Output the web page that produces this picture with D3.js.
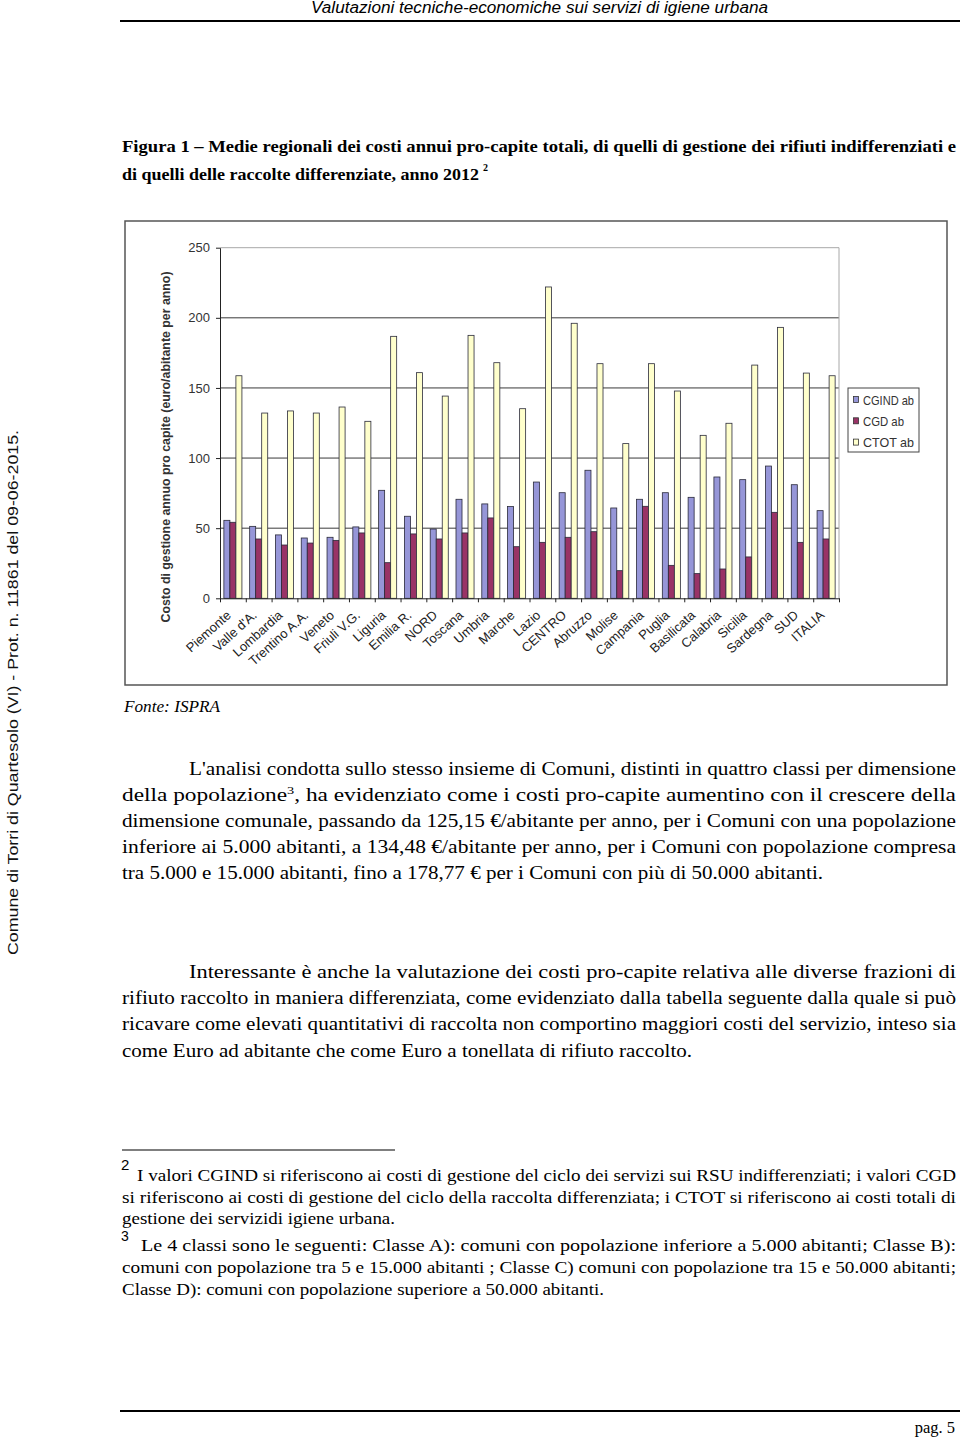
<!DOCTYPE html>
<html>
<head>
<meta charset="utf-8">
<script src="https://cdn.jsdelivr.net/npm/d3@7"></script>
<style>
  body { margin: 0; background: #fff; }
  svg { display: block; }
</style>
</head>
<body>
<svg id="page" width="960" height="1438"></svg>
<script>
// categories and series
var categories = ["Piemonte", "Valle d'A.", "Lombardia", "Trentino A.A.", "Veneto", "Friuli V.G.",
    "Liguria", "Emilia R.", "NORD", "Toscana", "Umbria", "Marche", "Lazio", "CENTRO",
    "Abruzzo", "Molise", "Campania", "Puglia", "Basilicata", "Calabria", "Sicilia",
    "Sardegna", "SUD", "ITALIA"];
var cgind = [55.6, 51.3, 45.2, 43.0, 43.5, 50.9, 77.0, 58.5, 49.4, 70.6, 67.3, 65.4, 82.9, 75.3,
    91.3, 64.4, 70.6, 75.3, 72.0, 86.5, 84.6, 94.3, 81.0, 62.5];
var cgd = [54.2, 42.3, 38.0, 39.4, 41.3, 46.6, 25.4, 45.9, 42.3, 46.6, 57.3, 36.8, 39.9, 43.5,
    47.5, 19.7, 65.6, 23.5, 17.6, 20.9, 29.5, 61.3, 39.9, 42.3];
var ctot = [158.7, 132.1, 133.6, 132.1, 136.4, 126.2, 186.8, 160.9, 144.2, 187.5, 168.0, 135.2,
    222.0, 196.1, 167.3, 110.3, 167.3, 147.8, 116.2, 124.8, 166.3, 193.2, 160.6, 158.7];
var seriesNames = ["CGIND ab", "CGD ab", "CTOT ab"];
var yTicks = [0, 50, 100, 150, 200, 250];

var seriesColors = ["#9696d8", "#993366", "#ffffcc"];
var values = [cgind, cgd, ctot];

var svg = d3.select("#page");
var serif = "'Liberation Serif', 'Times New Roman', serif";
var sans = "'Liberation Sans', Arial, sans-serif";

// helper for one line of page text, stretched to a width when given
function line(txt, x, y, opts) {
    opts = opts || {};
    var t = svg.append("text")
        .attr("x", x).attr("y", y)
        .style("font-family", opts.family || serif)
        .style("font-size", (opts.size || 18) + "px")
        .style("font-weight", opts.bold ? "bold" : "normal")
        .style("font-style", opts.italic ? "italic" : "normal")
        .attr("fill", opts.fill || "#000")
        .attr("text-anchor", opts.anchor || "start");
    if (opts.width) {
        t.attr("textLength", opts.width).attr("lengthAdjust", "spacingAndGlyphs");
    }
    if (Array.isArray(txt)) {
        var shift = 0;
        txt.forEach(function(p) {
            if (typeof p === "string") {
                t.append("tspan").attr("dy", -shift).text(p);
                shift = 0;
            } else {
                t.append("tspan").attr("dy", p.dy).style("font-size", p.size + "px").text(p.sup);
                shift = p.dy;
            }
        });
    } else {
        t.text(txt);
    }
    return t;
}

// page header
line("Valutazioni tecniche-economiche sui servizi di igiene urbana", 311, 13,
    {family: sans, italic: true, size: 16, width: 457});
svg.append("line").attr("x1", 120).attr("x2", 960).attr("y1", 21).attr("y2", 21)
    .attr("stroke", "#000").attr("stroke-width", 2);

// side stamp
svg.append("text")
    .attr("transform", "translate(18,955) rotate(-90)")
    .style("font-family", sans).style("font-size", "15px")
    .attr("fill", "#111")
    .attr("textLength", 525).attr("lengthAdjust", "spacingAndGlyphs")
    .text("Comune di Torri di Quartesolo (VI) - Prot. n.   11861 del 09-06-2015.");

// figure caption
line("Figura 1 \u2013 Medie regionali dei costi annui pro-capite totali, di quelli di gestione dei rifiuti indifferenziati e",
    122, 152, {bold: true, size: 17, width: 834});
line("di quelli delle raccolte differenziate, anno 2012", 122, 180, {bold: true, size: 17, width: 357});
line("2", 483, 171, {bold: true, size: 10});

// chart frame
svg.append("rect")
    .attr("x", 125).attr("y", 221).attr("width", 822).attr("height", 464)
    .attr("fill", "#fff").attr("stroke", "#555").attr("stroke-width", 1.5);

var plot = {left: 220, right: 839, top: 247.7, bottom: 598.3};

var x0 = d3.scaleBand()
    .domain(categories)
    .range([plot.left, plot.right])
    .paddingInner(0.3)
    .paddingOuter(0.15);
var x1 = d3.scaleBand()
    .domain(d3.range(seriesNames.length))
    .range([0, x0.bandwidth()]);
var y = d3.scaleLinear().domain([0, 250]).range([plot.bottom, plot.top]);

var chart = svg.append("g");

// grid
chart.selectAll("line.grid")
    .data(yTicks.filter(function(d) { return d > 0; }))
    .enter().append("line")
    .attr("x1", plot.left).attr("x2", plot.right)
    .attr("y1", function(d) { return y(d); })
    .attr("y2", function(d) { return y(d); })
    .attr("stroke", function(d) { return d === 250 ? "#a8a8a8" : "#3a3a3a"; })
    .attr("stroke-width", 1);
chart.append("line")
    .attr("x1", plot.right).attr("x2", plot.right)
    .attr("y1", plot.top).attr("y2", plot.bottom)
    .attr("stroke", "#a8a8a8");

// bars
var groups = chart.selectAll("g.grp")
    .data(categories)
    .enter().append("g")
    .attr("transform", function(d) { return "translate(" + x0(d) + ",0)"; });
groups.selectAll("rect")
    .data(function(d, i) { return values.map(function(v, s) { return {s: s, v: v[i]}; }); })
    .enter().append("rect")
    .attr("x", function(d) { return x1(d.s); })
    .attr("y", function(d) { return y(d.v); })
    .attr("width", x1.bandwidth())
    .attr("height", function(d) { return y(0) - y(d.v); })
    .attr("fill", function(d) { return seriesColors[d.s]; })
    .attr("stroke", "#2a2a3a")
    .attr("stroke-width", 0.8);

// y axis
var yAxis = chart.append("g")
    .attr("transform", "translate(" + plot.left + ",0)")
    .call(d3.axisLeft(y).tickValues(yTicks).tickSize(4).tickSizeOuter(0).tickPadding(6));
yAxis.select(".domain").attr("stroke", "#222");
yAxis.selectAll(".tick line").attr("stroke", "#222");
yAxis.selectAll("text")
    .style("font-family", sans).style("font-size", "13px").attr("fill", "#333");

// x axis, ticks between categories
var xEdges = d3.scaleLinear().domain([0, categories.length]).range([plot.left, plot.right]);
var xAxis = chart.append("g")
    .attr("transform", "translate(0," + plot.bottom + ")")
    .call(d3.axisBottom(xEdges).tickValues(d3.range(categories.length + 1))
        .tickFormat("").tickSize(4).tickSizeOuter(0));
xAxis.select(".domain").attr("stroke", "#222");
xAxis.selectAll(".tick line").attr("stroke", "#222");

chart.selectAll("text.xlab")
    .data(categories)
    .enter().append("text")
    .attr("class", "xlab")
    .attr("transform", function(d) {
        return "translate(" + (x0(d) + x0.bandwidth() / 2 - 1) + "," + (plot.bottom + 18) + ") rotate(-42)";
    })
    .attr("text-anchor", "end")
    .style("font-family", sans).style("font-size", "13px")
    .attr("fill", "#222")
    .text(function(d) { return d; });

// y title
svg.append("text")
    .attr("transform", "translate(170,447) rotate(-90)")
    .attr("text-anchor", "middle")
    .style("font-family", sans).style("font-size", "13.5px").style("font-weight", "bold")
    .attr("fill", "#333")
    .attr("textLength", 351).attr("lengthAdjust", "spacingAndGlyphs")
    .text("Costo di gestione annuo pro capite (euro/abitante per anno)");

// legend
var legend = svg.append("g").attr("transform", "translate(848,388)");
legend.append("rect").attr("width", 71).attr("height", 64)
    .attr("fill", "#fff").attr("stroke", "#444").attr("stroke-width", 1);
seriesNames.forEach(function(n, i) {
    legend.append("rect")
        .attr("x", 5.5).attr("y", 8.5 + i * 21.3).attr("width", 5).attr("height", 6)
        .attr("fill", seriesColors[i]).attr("stroke", "#333").attr("stroke-width", 0.8);
    legend.append("text")
        .attr("x", 15).attr("y", 16.5 + i * 21.3)
        .style("font-family", sans).style("font-size", "13px")
        .attr("fill", "#333")
        .attr("textLength", i === 1 ? 41 : 51).attr("lengthAdjust", "spacingAndGlyphs")
        .text(n);
});

line("Fonte: ISPRA", 124, 712, {italic: true, size: 16, width: 96});

// body paragraph 1
var R = 956;
line("L'analisi condotta sullo stesso insieme di Comuni, distinti in quattro classi per dimensione", 189, 775, {width: R - 189});
line(["della popolazione", {sup: "3", dy: -7, size: 11}, ", ha evidenziato come i costi pro-capite aumentino con il crescere della"], 122, 801, {width: R - 122});
line("dimensione comunale, passando da 125,15 \u20ac/abitante per anno, per i Comuni con una popolazione", 122, 827, {width: R - 122});
line("inferiore ai 5.000 abitanti, a 134,48 \u20ac/abitante per anno, per i Comuni con popolazione compresa", 122, 853, {width: R - 122});
line("tra 5.000 e 15.000 abitanti, fino a 178,77 \u20ac per i Comuni con pi\u00f9 di 50.000 abitanti.", 122, 879, {width: 701});

// body paragraph 2
line("Interessante \u00e8 anche la valutazione dei costi pro-capite relativa alle diverse frazioni di", 189, 978, {width: R - 189});
line("rifiuto raccolto in maniera differenziata, come evidenziato dalla tabella seguente dalla quale si pu\u00f2", 122, 1004, {width: R - 122});
line("ricavare come elevati quantitativi di raccolta non comportino maggiori costi del servizio, inteso sia", 122, 1030, {width: R - 122});
line("come Euro ad abitante che come Euro a tonellata di rifiuto raccolto.", 122, 1057, {width: 570});

// footnotes
svg.append("line").attr("x1", 122).attr("x2", 395).attr("y1", 1150).attr("y2", 1150)
    .attr("stroke", "#000").attr("stroke-width", 1.2);
line("2", 121, 1170, {family: sans, size: 15});
line("I valori CGIND  si riferiscono ai costi di gestione del ciclo dei servizi sui RSU indifferenziati; i valori CGD", 137, 1181, {size: 16.5, width: R - 137});
line("si riferiscono ai costi di gestione del ciclo della raccolta differenziata; i CTOT si riferiscono ai costi totali di", 122, 1203, {size: 16.5, width: R - 122});
line("gestione dei servizidi igiene urbana.", 122, 1224, {size: 16.5, width: 273});
line("3", 121, 1241, {family: sans, size: 14});
line("Le 4 classi sono le seguenti: Classe A): comuni con popolazione inferiore a 5.000 abitanti; Classe B):", 141, 1251, {size: 16.5, width: R - 141});
line("comuni con popolazione tra 5 e 15.000 abitanti ; Classe C) comuni con popolazione tra 15 e 50.000 abitanti;", 122, 1273, {size: 16.5, width: R - 122});
line("Classe D): comuni con popolazione superiore a 50.000 abitanti.", 122, 1295, {size: 16.5, width: 482});

// footer
svg.append("line").attr("x1", 120).attr("x2", 960).attr("y1", 1411).attr("y2", 1411)
    .attr("stroke", "#000").attr("stroke-width", 2);
line("pag. 5", 955, 1433, {size: 16.5, anchor: "end"});
</script>
</body>
</html>
